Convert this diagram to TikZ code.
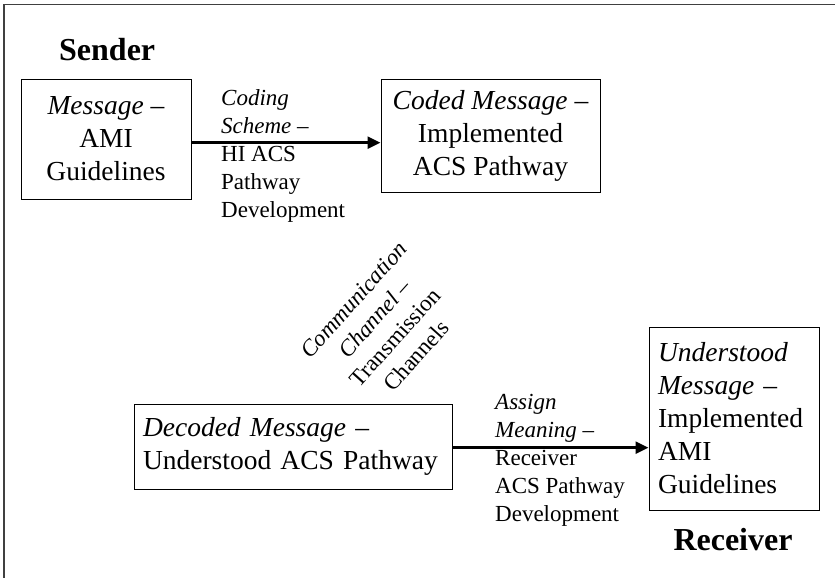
\documentclass[tikz,border=0pt]{standalone}
\usepackage{fontspec}
\setmainfont{Liberation Serif}
\usetikzlibrary{arrows.meta}
\newcommand{\boxfont}{\fontsize{27.5}{33}\selectfont}
\newcommand{\labfont}{\fontsize{23}{28}\selectfont}
\newcommand{\headfont}{\fontsize{32}{36}\selectfont\bfseries}
\tikzset{
  frameline/.style={draw=black!75, line width=1.8pt},
  stagebox/.style={draw, line width=1pt, inner sep=0pt, font=\boxfont},
  flow/.style={line width=2.6pt, -{Triangle[length=13pt,width=12pt]}},
  edgelab/.style={inner sep=0pt, align=left, font=\labfont, anchor=north west},
  head/.style={inner sep=0pt, font=\headfont}
}
\begin{document}
\begin{tikzpicture}[x=1pt,y=-1pt]
\useasboundingbox (0,0) rectangle (835,578);
\draw[frameline] (4,578) -- (4,4.5) -- (835,4.5);

% titles
\node[head, anchor=base west] (sender) at (59,61) {Sender};
\node[head, anchor=base] (receiver) at (733,550) {Receiver};

% stages of the communication process
\node[stagebox, minimum width=170pt, minimum height=120pt, align=center] (msg) at (106,139)
  {\textit{Message} --\\AMI\\Guidelines};
\node[stagebox, minimum width=219pt, minimum height=113pt, align=center] (coded) at (490.5,135.5)
  {\textit{Coded Message} --\\Implemented\\ACS Pathway};
\node[stagebox, minimum height=85pt, text width=300pt, inner xsep=9pt, align=left] (decoded) at (293,446.5)
  {\textit{Decoded Message} --\\Understood ACS Pathway};
\node[stagebox, minimum height=183pt, text width=152pt, inner xsep=9pt, align=left] (understood) at (734,418.5)
  {\textit{Understood}\\\textit{Message} --\\Implemented\\AMI\\Guidelines};

% connectors
\draw[flow] ([yshift=-3.7pt]msg.east) -- ([yshift=-3.7pt]msg.east -| coded.west);
\draw[flow] ([yshift=-1.2pt]decoded.east) -- ([yshift=-1.2pt]decoded.east -| understood.west);

% connector labels
\node[edgelab] (coding) at (221,89)
  {\textit{Coding}\\\textit{Scheme} --\\HI ACS\\Pathway\\Development};
\node[edgelab] (assign) at (495,394)
  {\textit{Assign}\\\textit{Meaning} --\\Receiver\\ACS Pathway\\Development};
\node[inner sep=0pt, align=center, font=\labfont, rotate=48] (channel) at (385,328)
  {\textit{Communication}\\\textit{Channel} --\\Transmission\\Channels};
\end{tikzpicture}
\end{document}
